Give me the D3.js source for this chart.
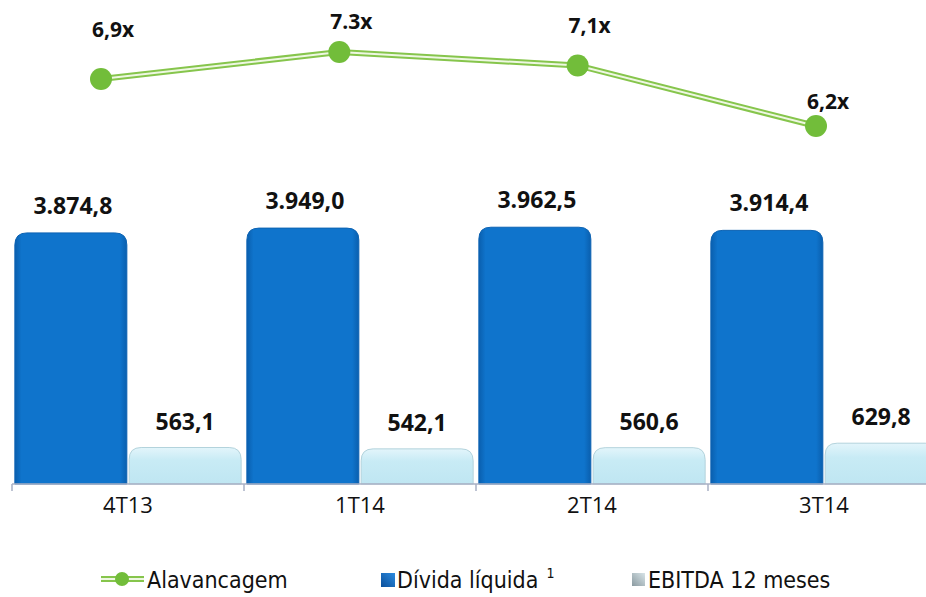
<!DOCTYPE html>
<html>
<head>
<meta charset="utf-8">
<script src="https://cdn.jsdelivr.net/npm/d3@7"></script>
<style>
  body { margin: 0; background: #fff; }
  svg { display: block; }
  .val { font-family: "Open Sans", sans-serif; font-weight: bold; font-size: 23px; fill: #111; }
  .cat { font-family: "Open Sans", sans-serif; font-size: 22px; fill: #111; }
  .leg { font-family: "Liberation Sans Narrow", "DejaVu Sans Condensed", "Open Sans", sans-serif; font-size: 23px; fill: #111; }
</style>
</head>
<body>
<div class="graph"></div>
<script>
// values
const quarters = ["4T13", "1T14", "2T14", "3T14"];
const dividaLiquida = [3874.8, 3949.0, 3962.5, 3914.4];
const ebitda12m = [563.1, 542.1, 560.6, 629.8];
const alavancagem = [6.9, 7.3, 7.1, 6.2];
const dividaLabels = ["3.874,8", "3.949,0", "3.962,5", "3.914,4"];
const ebitdaLabels = ["563,1", "542,1", "560,6", "629,8"];
const alavLabels = ["6,9x", "7.3x", "7,1x", "6,2x"];
const legendNames = ["Alavancagem", "Dívida líquida", "EBITDA 12 meses"];

const w = 926, h = 597;
const baseY = 484;

const svg = d3.select(".graph").append("svg")
  .attr("width", w).attr("height", h);

const defs = svg.append("defs");
const gBlue = defs.append("linearGradient").attr("id", "gBlue").attr("x1", 0).attr("x2", 1).attr("y1", 0).attr("y2", 0);
gBlue.append("stop").attr("offset", "0%").attr("stop-color", "#0a5fae");
gBlue.append("stop").attr("offset", "6%").attr("stop-color", "#0f74cc");
gBlue.append("stop").attr("offset", "94%").attr("stop-color", "#0f74cc");
gBlue.append("stop").attr("offset", "100%").attr("stop-color", "#0a5fae");
const gCyan = defs.append("linearGradient").attr("id", "gCyan").attr("x1", 0).attr("x2", 0).attr("y1", 0).attr("y2", 1);
gCyan.append("stop").attr("offset", "0%").attr("stop-color", "#e3f5fb");
gCyan.append("stop").attr("offset", "35%").attr("stop-color", "#c8ebf5");
gCyan.append("stop").attr("offset", "100%").attr("stop-color", "#bfe6f2");
const gLegBlue = defs.append("linearGradient").attr("id", "gLegBlue").attr("x1", 0).attr("x2", 1).attr("y1", 1).attr("y2", 0);
gLegBlue.append("stop").attr("offset", "0%").attr("stop-color", "#0b4f9a");
gLegBlue.append("stop").attr("offset", "100%").attr("stop-color", "#2b8be0");
const gLegGray = defs.append("linearGradient").attr("id", "gLegGray").attr("x1", 0).attr("x2", 1).attr("y1", 1).attr("y2", 0);
gLegGray.append("stop").attr("offset", "0%").attr("stop-color", "#8a9aa0");
gLegGray.append("stop").attr("offset", "100%").attr("stop-color", "#d8e4e8");

const x = d3.scaleBand().domain(quarters).range([12, 940]);
const xSub = d3.scaleBand().domain(["div", "ebt"]).range([0, x.bandwidth()]).paddingInner(0.02).paddingOuter(0.025);
const y = d3.scaleLinear().domain([0, 4500]).range([baseY, baseY - 4500 * 0.0648]);

// rounded-top bar path
function barPath(x0, bw, top, r) {
  return `M${x0},${baseY} L${x0},${top + r} Q${x0},${top} ${x0 + r},${top} L${x0 + bw - r},${top} Q${x0 + bw},${top} ${x0 + bw},${top + r} L${x0 + bw},${baseY} Z`;
}

const groups = svg.selectAll("g.q").data(quarters).enter().append("g")
  .attr("transform", d => `translate(${x(d)},0)`);

groups.append("path")
  .attr("d", (d, i) => barPath(xSub("div"), xSub.bandwidth(), y(dividaLiquida[i]), 12))
  .attr("fill", "url(#gBlue)")
  .attr("stroke", "#0d63b3").attr("stroke-width", 1);

groups.append("path")
  .attr("d", (d, i) => barPath(xSub("ebt"), xSub.bandwidth(), y(ebitda12m[i]), 12))
  .attr("fill", "url(#gCyan)")
  .attr("stroke", "#b3d3dc").attr("stroke-width", 1);

groups.append("text").attr("class", "val")
  .attr("x", xSub("div") + xSub.bandwidth() / 2 + 2)
  .attr("y", (d, i) => y(dividaLiquida[i]) - 19)
  .attr("text-anchor", "middle")
  .text((d, i) => dividaLabels[i]);

groups.append("text").attr("class", "val")
  .attr("x", xSub("ebt") + xSub.bandwidth() / 2)
  .attr("y", (d, i) => y(ebitda12m[i]) - 18)
  .attr("text-anchor", "middle")
  .text((d, i) => ebitdaLabels[i]);

// x axis
const axisG = svg.append("g").attr("transform", `translate(0,${baseY})`);
axisG.append("line").attr("x1", 12).attr("x2", w).attr("y1", 0).attr("y2", 0)
  .attr("stroke", "#a9b0c4").attr("stroke-width", 1.5);
axisG.selectAll("line.tick").data(quarters).enter().append("line")
  .attr("x1", d => x(d)).attr("x2", d => x(d)).attr("y1", 0).attr("y2", 7)
  .attr("stroke", "#a9b0c4").attr("stroke-width", 1.5);
axisG.selectAll("text").data(quarters).enter().append("text")
  .attr("class", "cat")
  .attr("x", d => x(d) + x.bandwidth() / 2)
  .attr("y", 29)
  .attr("text-anchor", "middle")
  .text(d => d);

// leverage line
const xl = d3.scalePoint().domain(quarters).range([101, 816]);
const yl = d3.scaleLinear().domain([6.2, 7.3]).range([126, 52]);
const line = d3.line().x((d, i) => xl(quarters[i])).y(d => yl(d));

svg.append("path").datum(alavancagem).attr("d", line)
  .attr("fill", "none").attr("stroke", "#86c54c").attr("stroke-width", 6);
svg.append("path").datum(alavancagem).attr("d", line)
  .attr("fill", "none").attr("stroke", "#eef7e2").attr("stroke-width", 2);

svg.selectAll("circle.pt").data(alavancagem).enter().append("circle")
  .attr("cx", (d, i) => xl(quarters[i]))
  .attr("cy", d => yl(d))
  .attr("r", 11)
  .attr("fill", "#72bd3a");

svg.selectAll("text.al").data(alavancagem).enter().append("text")
  .attr("class", "val")
  .attr("x", (d, i) => xl(quarters[i]) + 12)
  .attr("y", d => yl(d) > 100 ? yl(d) - 17 : 37 - (d - 6.9) * 20)
  .attr("text-anchor", "middle")
  .style("font-size", "21px")
  .text((d, i) => alavLabels[i]);

// legend
const leg = svg.append("g");
leg.append("path").attr("d", "M101,579 L144,579")
  .attr("stroke", "#86c54c").attr("stroke-width", 6);
leg.append("path").attr("d", "M101,579 L144,579")
  .attr("stroke", "#eef7e2").attr("stroke-width", 2);
leg.append("circle").attr("cx", 122).attr("cy", 579).attr("r", 7).attr("fill", "#72bd3a");
leg.append("text").attr("class", "leg").attr("x", 147).attr("y", 588).text(legendNames[0]);

leg.append("rect").attr("x", 381).attr("y", 573).attr("width", 14).attr("height", 14).attr("fill", "url(#gLegBlue)");
leg.append("text").attr("class", "leg").attr("x", 397).attr("y", 588).text(legendNames[1])
  .append("tspan").attr("dx", 8).attr("dy", -10).attr("font-size", 14).text("1");

leg.append("rect").attr("x", 632).attr("y", 573).attr("width", 13).attr("height", 13).attr("fill", "url(#gLegGray)");
leg.append("text").attr("class", "leg").attr("x", 648).attr("y", 588).text(legendNames[2]);
</script>
</body>
</html>
